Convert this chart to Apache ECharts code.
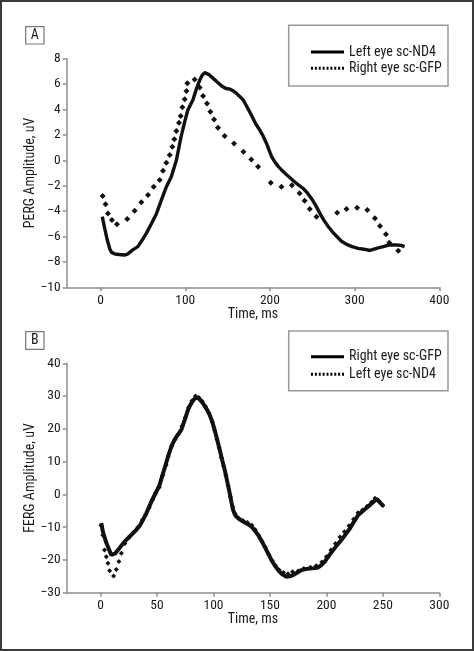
<!DOCTYPE html>
<html><head><meta charset="utf-8">
<script src="https://cdn.jsdelivr.net/npm/echarts@6/dist/echarts.min.js"></script>
<style>html,body{margin:0;padding:0;background:#fff}#c{width:474px;height:651px}</style>
</head><body><div id="c"></div>
<script>
// ---- Data ----
const panelALabels = ['Left eye sc-ND4', 'Right eye sc-GFP'];
const panelBLabels = ['Right eye sc-GFP', 'Left eye sc-ND4'];
const xTicksA = [0, 100, 200, 300, 400];
const xTicksB = [0, 50, 100, 150, 200, 250, 300];
const yTitleA = 'PERG Amplitude, uV';
const yTitleB = 'FERG Amplitude, uV';
const xTitle = 'Time, ms';

// Panel A: Left eye sc-ND4 (solid)
const aLeftND4 = [[2,-4.44],[5,-5.4],[8,-6.3],[11,-7.0],[13,-7.25],[17,-7.38],[22,-7.42],[28,-7.46],[32,-7.38],[38,-7.05],[44,-6.8],[49,-6.3],[54,-5.75],[60,-5.0],[66,-4.2],[72,-3.1],[77.6,-2.1],[83.5,-1.3],[89.5,0.0],[95,1.85],[100,3.2],[103,3.95],[109,4.75],[113,5.6],[117,6.3],[120,6.7],[123,6.9],[128,6.75],[133,6.45],[138,6.15],[143,5.85],[148,5.65],[153,5.6],[157,5.45],[160.5,5.27],[164,5.05],[168.5,4.75],[173,4.2],[178,3.56],[183,2.9],[188,2.38],[192,1.9],[196,1.33],[199,0.8],[202,0.28],[206,-0.15],[210,-0.5],[215,-0.85],[220,-1.16],[225,-1.45],[229,-1.69],[234,-1.95],[239,-2.2],[244,-2.55],[249,-3.0],[254,-3.55],[259,-4.18],[264,-4.75],[269,-5.23],[274,-5.65],[279,-6.0],[284,-6.35],[290,-6.6],[297,-6.8],[304,-6.93],[311,-7.0],[318,-7.1],[323,-7.0],[328,-6.9],[334,-6.8],[340,-6.67],[345,-6.67],[350,-6.67],[355,-6.7],[359,-6.8]];
// Panel A: Right eye sc-GFP (dotted)
const aRightGFP = [[2.4,-2.81],[5.9,-3.47],[8.7,-4.18],[13.4,-4.7],[19.3,-5.04],[31.5,-4.62],[40.2,-3.97],[48.1,-3.31],[56,-2.73],[62.7,-2.08],[69.8,-1.55],[73.7,-0.82],[77.6,-0.19],[81.6,0.41],[84.7,1.07],[87.1,1.65],[89.5,2.3],[92.6,2.96],[94.6,3.49],[96.6,4.17],[99.3,4.8],[101.5,5.45],[102.5,6.06],[111.1,6.37],[117,5.74],[121,5.06],[125.7,4.48],[129.7,3.83],[134,3.22],[138.7,2.57],[146.6,1.91],[157.6,1.33],[168.7,0.68],[178,0.07],[186,-0.5],[201,-1.76],[213.6,-2.08],[226,-1.97],[235,-2.6],[241,-3.18],[247,-3.84],[255,-4.44],[279.4,-4.13],[290.4,-3.84],[303,-3.73],[315,-3.92],[324,-4.57],[330,-5.18],[337,-5.83],[341,-6.49],[351.5,-7.12]];

// Panel B: Right eye sc-GFP (solid)
const bRightGFP = [[0.6,-8.8],[2.1,-11.4],[5,-14.7],[7.5,-16.8],[9.5,-18.5],[11,-18.8],[13,-18.0],[15.4,-17],[18,-15.8],[21.3,-14.4],[25,-13.1],[28.7,-11.9],[32,-10.7],[34.6,-9.6],[37.5,-7.8],[40.5,-5.8],[43,-3.8],[45,-2.2],[47,-0.8],[49.4,0.8],[52.3,2.9],[55.3,6.4],[57.5,8.9],[59.7,11.5],[62.7,14.6],[65,16.3],[67.1,17.6],[69.5,18.7],[71.5,19.7],[74.5,22.7],[77.4,25.8],[79.5,27.3],[81.3,28.3],[83,29.1],[84.8,29.6],[86.5,29.4],[87.8,29.0],[90,28.1],[92.2,27.0],[94.5,25.7],[96.7,24.2],[99,22.1],[101,19.7],[103.3,16.7],[105.5,13.6],[107.7,10.5],[110,7.4],[112.2,3.9],[114.4,0.3],[116,-2.5],[117.4,-4.8],[118.8,-6.0],[120.3,-6.8],[123,-7.6],[126.2,-8.3],[130,-9.0],[133.6,-9.8],[136.5,-11.0],[139.5,-12.4],[142.5,-14.1],[145.4,-16],[148.4,-18.0],[151.3,-20],[154.3,-21.7],[157.3,-23.1],[160.5,-24.3],[164.6,-25.1],[167.5,-25.0],[170.6,-24.6],[174,-23.9],[178,-23.1],[181.5,-22.8],[185.3,-22.6],[189,-22.5],[192.7,-22.3],[195.5,-21.6],[198.6,-20.5],[202,-18.8],[206,-17],[209.5,-15.4],[213.4,-13.9],[217,-12.2],[220.8,-10.4],[224.5,-8.3],[228.2,-6.3],[232.5,-5.0],[237.1,-3.7],[241,-2.5],[244.5,-1.4],[247.5,-2.5],[250.4,-3.5]];
// Panel B: Left eye sc-ND4 (dotted)
const bLeftND4 = [[0.5,-9.5],[2,-12.5],[3.5,-17.0],[5.1,-19.0],[6.5,-21.0],[8,-23.3],[11.5,-24.9],[13.9,-22.9],[16.2,-20.5],[18.4,-18.0],[21.5,-15.0],[25,-13.2],[29,-11.6],[33,-10.0],[37,-7.8],[40,-6.2],[43,-4.0],[46,-1.6],[49,0.6],[52,2.2],[55,5.8],[58,9.0],[60,11.6],[63,14.8],[66,16.8],[69,18.4],[72,20.8],[75,23.4],[78,26.6],[81,28.6],[84,30.0],[87,29.6],[90,28.4],[93,26.8],[96,24.8],[99,22.0],[101,19.5],[103,16.8],[105,14.2],[107,11.2],[109,8.6],[111,5.8],[113,2.6],[115,-0.8],[117,-3.8],[119,-5.8],[122,-7.2],[126,-8.0],[130,-8.6],[134,-9.4],[137,-10.8],[140,-12.5],[143,-14.4],[146,-16.2],[149,-18.4],[152,-20.2],[155,-21.8],[158,-23.0],[162,-23.8],[166,-24.2],[170,-23.6],[175,-23.4],[180,-22.6],[186,-22.2],[191,-21.8],[196,-20.6],[200,-19.0],[204,-17.0],[208,-15.0],[212,-13.0],[216,-11.4],[220,-9.6],[224,-7.6],[228,-5.6],[232,-4.8],[236,-3.6],[240,-2.4],[243,-1.2],[247,-2.2],[250,-3.4]];

// ---- Styling ----
const FONT = "'Roboto Condensed',Roboto,sans-serif";
const TXT = '#1a1a1a';
const AX = '#8f8f8f';
const solidIcon = 'path://M0,0H33V3H0Z';
let dp = '';
for (let i = 0; i < 9; i++) { const x = i * 3.9; dp += 'M' + x + ',0h2v3h-2z'; }
const dottedIcon = 'path://' + dp;

function xAxisCfg(grid, min, max, ticks) {
  return {
    type: 'value', gridIndex: grid, min: min, max: max,
    name: xTitle, nameLocation: 'middle', nameGap: 20, nameMoveOverlap: false,
    nameTextStyle: { fontFamily: FONT, fontSize: 14, color: TXT },
    axisLine: { onZero: false, lineStyle: { color: AX, width: 1.5 } },
    axisTick: { show: true, length: 4, lineStyle: { color: AX, width: 1.5 }, customValues: ticks },
    axisLabel: { customValues: ticks, margin: 6, fontFamily: FONT, fontSize: 13.5, color: TXT },
    splitLine: { show: false }
  };
}
function yAxisCfg(grid, min, max, interval, title) {
  return {
    type: 'value', gridIndex: grid, min: min, max: max, interval: interval,
    name: title, nameLocation: 'middle', nameGap: 29, nameRotate: 90, nameMoveOverlap: false,
    nameTextStyle: { fontFamily: FONT, fontSize: 14, color: TXT },
    axisLine: { show: true, onZero: false, lineStyle: { color: AX, width: 1.5 } },
    axisTick: { show: true, length: 4, lineStyle: { color: AX, width: 1.5 } },
    axisLabel: { margin: 6, fontFamily: FONT, fontSize: 13.5, color: TXT,
      formatter: v => (v < 0 ? '\u2212' + Math.abs(v) : String(v)) },
    splitLine: { show: false }
  };
}
function legendCfg(top, gap, names) {
  return {
    orient: 'vertical', left: 306, top: top, itemGap: gap,
    itemWidth: 33, itemHeight: 3, symbolKeepAspect: true,
    textStyle: { fontFamily: FONT, fontSize: 14, color: TXT, lineHeight: 14 },
    itemStyle: { color: '#000', borderWidth: 0 },
    lineStyle: { width: 0 },
    selectedMode: false,
    data: [{ name: names[0], icon: solidIcon }, { name: names[1], icon: dottedIcon }]
  };
}

const chart = echarts.init(document.getElementById('c'), null, { renderer: 'canvas' });
chart.setOption({
  animation: false,
  backgroundColor: '#fff',
  grid: [
    { left: 66.7, top: 58.7, right: 34.7, height: 228.6 },
    { left: 66.7, top: 363.3, right: 34.7, height: 229.4 }
  ],
  xAxis: [xAxisCfg(0, -40, 400, xTicksA), xAxisCfg(1, -30, 300, xTicksB)],
  yAxis: [yAxisCfg(0, -10, 8, 2, yTitleA), yAxisCfg(1, -30, 40, 10, yTitleB)],
  legend: [legendCfg(40, 2.3, panelALabels), legendCfg(344.7, 3.6, panelBLabels)],
  graphic: [
    { type: 'rect', shape: { x: 1, y: 1, width: 472, height: 649 }, style: { fill: 'none', stroke: '#3a3a3a', lineWidth: 2 }, z: 100 },
    { type: 'rect', shape: { x: 25.7, y: 26.7, width: 18.3, height: 17.3 }, style: { fill: '#fff', stroke: '#777', lineWidth: 1.2 } },
    { type: 'text', x: 34.8, y: 35.6, style: { text: 'A', fontFamily: FONT, fontSize: 14, fill: TXT, align: 'center', verticalAlign: 'middle' } },
    { type: 'rect', shape: { x: 25.7, y: 331.7, width: 18.3, height: 17.6 }, style: { fill: '#fff', stroke: '#777', lineWidth: 1.2 } },
    { type: 'text', x: 34.8, y: 340.8, style: { text: 'B', fontFamily: FONT, fontSize: 14, fill: TXT, align: 'center', verticalAlign: 'middle' } },
    { type: 'rect', shape: { x: 288.7, y: 25.3, width: 159.3, height: 60.7 }, style: { fill: 'none', stroke: '#999', lineWidth: 1.5 } },
    { type: 'rect', shape: { x: 288.7, y: 331, width: 159.3, height: 59.7 }, style: { fill: 'none', stroke: '#999', lineWidth: 1.5 } }
  ],
  series: [
    { name: panelALabels[1], type: 'line', xAxisIndex: 0, yAxisIndex: 0, data: aRightGFP,
      showSymbol: true, symbol: 'diamond', symbolSize: 6, lineStyle: { opacity: 0, width: 0 },
      itemStyle: { color: '#111' }, z: 2 },
    { name: panelALabels[0], type: 'line', xAxisIndex: 0, yAxisIndex: 0, data: aLeftND4,
      showSymbol: false, lineStyle: { color: '#111', width: 3.4 }, itemStyle: { color: '#111' }, z: 3 },
    { name: panelBLabels[1], type: 'line', xAxisIndex: 1, yAxisIndex: 1, data: bLeftND4,
      showSymbol: true, symbol: 'diamond', symbolSize: 5, lineStyle: { opacity: 0, width: 0 },
      itemStyle: { color: '#111' }, z: 2 },
    { name: panelBLabels[0], type: 'line', xAxisIndex: 1, yAxisIndex: 1, data: bRightGFP,
      showSymbol: false, lineStyle: { color: '#111', width: 4 }, itemStyle: { color: '#111' }, z: 3 }
  ]
});
</script></body></html>
